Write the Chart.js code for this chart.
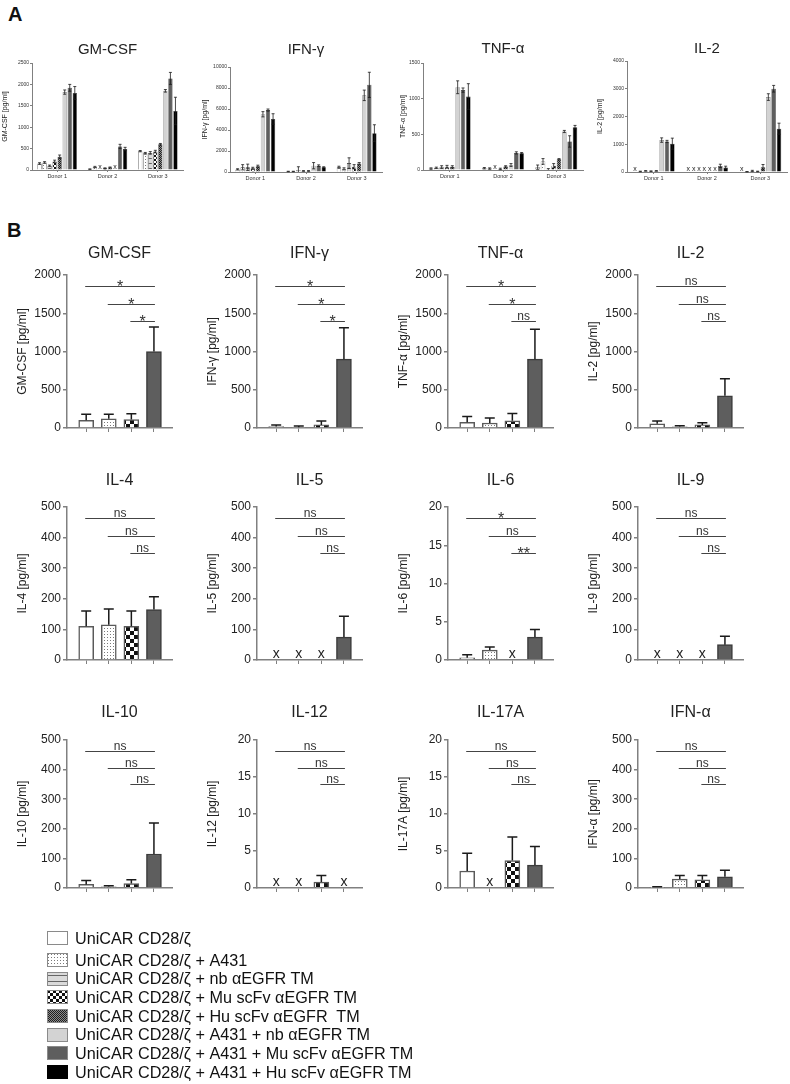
<!DOCTYPE html>
<html>
<head>
<meta charset="utf-8">
<script src="https://cdn.jsdelivr.net/npm/chart.js@4.4.1/dist/chart.umd.min.js"></script>
<style>
  body { margin: 0; width: 790px; height: 1084px; background: #fff; position: relative; overflow: hidden;
         font-family: "Liberation Sans", Arial, sans-serif; }
  .panel { position: absolute; font-weight: bold; font-size: 20px; color: #111; }
  #legend { position: absolute; left: 47px; top: 929px; }
  .row { display: flex; align-items: center; height: 18.7px; font-size: 16.2px; color: #111; white-space: pre; }
  .row:first-child { margin-bottom: 3px; }
  .row canvas { margin-right: 7px; }
</style>
</head>
<body>
<div class="panel" style="left:8px;top:3px">A</div>
<div class="panel" style="left:7px;top:219px">B</div>
<div id="legend"></div>

<script>
/* ---------- data ---------- */
const groups = [
  'UniCAR CD28/ζ',
  'UniCAR CD28/ζ + A431',
  'UniCAR CD28/ζ + nb αEGFR TM',
  'UniCAR CD28/ζ + Mu scFv αEGFR TM',
  'UniCAR CD28/ζ + Hu scFv αEGFR  TM',
  'UniCAR CD28/ζ + A431 + nb αEGFR TM',
  'UniCAR CD28/ζ + A431 + Mu scFv αEGFR TM',
  'UniCAR CD28/ζ + A431 + Hu scFv αEGFR TM'
];
const donors = ['Donor 1', 'Donor 2', 'Donor 3'];

// Panel A : one row per donor, one column per group (null = not detected, drawn as x)
const gmcsfA    = [[150, 175, 100, 200, 310, 1820, 1920, 1800], [20, 70, null, 40, 60, null, 550, 490], [440, 390, 400, 430, 600, 1850, 2140, 1380]];
const gmcsfAErr = [[20, 20, 15, 30, 40, 50, 80, 150], [5, 15, 0, 10, 10, 0, 50, 40], [15, 20, 30, 30, 20, 30, 140, 320]];
const ifngA     = [[250, 450, 450, 350, 550, 5500, 5900, 5050], [50, 50, 200, 100, 100, 600, 600, 450], [450, 300, 850, 500, 800, 7300, 8300, 3700]];
const ifngAErr  = [[60, 250, 300, 100, 100, 250, 100, 500], [20, 20, 300, 30, 30, 300, 80, 50], [100, 100, 500, 200, 100, 500, 1200, 800]];
const tnfaA     = [[20, 30, 40, 45, 45, 1160, 1120, 1030], [25, 20, null, 15, 50, 70, 240, 235], [40, 120, 10, 60, 150, 540, 400, 600]];
const tnfaAErr  = [[10, 10, 20, 20, 15, 90, 30, 180], [10, 10, 0, 10, 10, 20, 15, 10], [30, 40, 10, 30, 10, 15, 80, 25]];
const il2A      = [[null, 20, 40, 30, 40, 1150, 1100, 1020], [null, null, null, null, null, null, 220, 160], [null, 10, 40, 20, 170, 2700, 3000, 1560]];
const il2AErr   = [[0, 10, 10, 10, 10, 80, 40, 200], [0, 0, 0, 0, 0, 0, 60, 50], [0, 5, 20, 10, 100, 120, 120, 200]];

const aTitles = ['GM-CSF', 'IFN-γ', 'TNF-α', 'IL-2'];
const aMax    = [2500, 10000, 1500, 4000];
const aStep   = [500, 2000, 500, 1000];

// Panel B : mean of the 3 donors (+SD), groups 0, 1, 3, 6 of the legend
const bGroups = [0, 1, 3, 6];
const bTitles = ['GM-CSF', 'IFN-γ', 'TNF-α', 'IL-2', 'IL-4', 'IL-5', 'IL-6', 'IL-9', 'IL-10', 'IL-12', 'IL-17A', 'IFN-α'];
const bMeans = [
  [100, 120, 110, 1000], [20, 10, 40, 900], [75, 65, 95, 900], [55, 15, 40, 420],
  [110, 115, 110, 165], [null, null, null, 75], [0.3, 1.3, null, 3.0], [null, null, null, 50],
  [12, 4, 15, 115], [null, null, 0.8, null], [2.3, null, 3.7, 3.1], [2, 30, 28, 38]
];
const bErrs = [
  [80, 60, 75, 320], [20, 15, 50, 410], [75, 65, 95, 390], [35, 15, 30, 225],
  [50, 52, 50, 42], [0, 0, 0, 68], [0.4, 0.4, 0, 1.0], [0, 0, 0, 28],
  [13, 4, 13, 105], [0, 0, 0.9, 0], [2.4, 0, 3.2, 2.5], [2, 12, 14, 22]
];
const bMax  = [2000, 2000, 2000, 2000, 500, 500, 20, 500, 500, 20, 20, 500];
const bStep = [500, 500, 500, 500, 100, 100, 5, 100, 100, 5, 5, 100];
const bSig = [
  ['*', '*', '*'], ['*', '*', '*'], ['*', '*', 'ns'], ['ns', 'ns', 'ns'],
  ['ns', 'ns', 'ns'], ['ns', 'ns', 'ns'], ['*', 'ns', '**'], ['ns', 'ns', 'ns'],
  ['ns', 'ns', 'ns'], ['ns', 'ns', 'ns'], ['ns', 'ns', 'ns'], ['ns', 'ns', 'ns']
];

/* ---------- styles ---------- */
const FONT = '"Liberation Sans", Arial, sans-serif';
Chart.defaults.font.family = FONT;
Chart.defaults.color = '#222';
const AXIS = '#808080';
const plain = v => String(v);

function tile(kind, s) {
  const c = document.createElement('canvas');
  const g = c.getContext('2d');
  if (kind === 'dots') {
    c.width = c.height = 3;
    g.fillStyle = '#fff'; g.fillRect(0, 0, 3, 3);
    g.fillStyle = '#7a7a7a'; g.fillRect(1, 1, 1, 1);
  } else if (kind === 'stripes') {
    c.width = 4; c.height = s;
    g.fillStyle = '#dadada'; g.fillRect(0, 0, 4, s);
    g.fillStyle = '#666'; g.fillRect(0, Math.floor(s / 2), 4, 1);
  } else if (kind === 'checker') {
    c.width = c.height = 2 * s;
    g.fillStyle = '#fff'; g.fillRect(0, 0, 2 * s, 2 * s);
    g.fillStyle = '#111'; g.fillRect(0, 0, s, s); g.fillRect(s, s, s, s);
  } else {
    c.width = c.height = 2;
    g.fillStyle = '#8c8c8c'; g.fillRect(0, 0, 2, 2);
    g.fillStyle = '#1e1e1e'; g.fillRect(0, 0, 1, 1); g.fillRect(1, 1, 1, 1);
  }
  return g.createPattern(c, 'repeat');
}
function fillsFor(s) {
  return ['#ffffff', tile('dots'), tile('stripes', s + 3), tile('checker', s), tile('fine'), '#d3d3d3', '#5e5e5e', '#000000'];
}

/* ---------- error bars, x marks, significance lines ---------- */
const extras = {
  id: 'extras',
  afterDatasetsDraw(chart, args, o) {
    const { ctx, scales: { x, y } } = chart;
    ctx.save();
    chart.data.datasets.forEach((ds, di) => {
      chart.getDatasetMeta(di).data.forEach((bar, j) => {
        const raw = ds.data[j];
        const v = raw !== null && typeof raw === 'object' ? raw.y : raw;
        if (v === null || v === undefined) {
          ctx.fillStyle = '#222';
          ctx.font = o.xFont;
          ctx.textAlign = 'center';
          ctx.textBaseline = 'alphabetic';
          ctx.fillText('x', bar.x, y.bottom - o.xLift);
          return;
        }
        const e = ds.errors ? ds.errors[j] : 0;
        if (!e) return;
        const top = y.getPixelForValue(v + e);
        const bot = y.getPixelForValue(o.bothWays ? Math.max(v - e, 0) : v);
        ctx.strokeStyle = '#1a1a1a';
        ctx.lineWidth = o.lw;
        ctx.beginPath();
        ctx.moveTo(bar.x, bot); ctx.lineTo(bar.x, top);
        ctx.moveTo(bar.x - o.cap / 2, top); ctx.lineTo(bar.x + o.cap / 2, top);
        if (o.bothWays && v - e > 0) { ctx.moveTo(bar.x - o.cap / 2, bot); ctx.lineTo(bar.x + o.cap / 2, bot); }
        ctx.stroke();
      });
    });
    if (o.sig) {
      const last = x.getPixelForValue(3);
      o.sig.forEach((lab, k) => {
        const yy = Math.round(y.getPixelForValue(o.levels[k] * y.max)) + 0.5;
        const x1 = x.getPixelForValue(k) - 1;
        ctx.strokeStyle = '#444'; ctx.lineWidth = 1;
        ctx.beginPath(); ctx.moveTo(x1, yy); ctx.lineTo(last + 1, yy); ctx.stroke();
        ctx.fillStyle = '#333'; ctx.textAlign = 'center'; ctx.textBaseline = 'alphabetic';
        const mid = (x1 + last + 1) / 2;
        if (lab === 'ns') { ctx.font = '12px ' + FONT; ctx.fillText(lab, mid, yy - 2); }
        else { ctx.font = '16px ' + FONT; ctx.fillText(lab, mid, yy + 5); }
      });
    }
    ctx.restore();
  }
};

/* ---------- layout helpers ---------- */
function frame(axisX, yW, titleY, areaTop, areaBottom, plotW, titleSize, xH, right) {
  const lh = titleSize * 1.2;
  const top = Math.round(titleY - lh / 2);
  return { left: axisX - yW, top, width: yW + plotW + right, height: areaBottom + xH - top, pb: areaTop - top - lh, right };
}
function place(f) {
  const c = document.createElement('canvas');
  c.width = f.width; c.height = f.height;
  c.style.cssText = `position:absolute;left:${f.left}px;top:${f.top}px;width:${f.width}px;height:${f.height}px`;
  document.body.appendChild(c);
  return c;
}

/* ============================================================
   A — per donor, 8 groups
============================================================ */
const aValues = [gmcsfA, ifngA, tnfaA, il2A];
const aErrors = [gmcsfAErr, ifngAErr, tnfaAErr, il2AErr];
const aFrames = [
  { axis: 32,  yW: 32, ty: 50, top: 63, bottom: 170, w: 151, tp: 0.8 },
  { axis: 230, yW: 40, ty: 50, top: 67, bottom: 172, w: 152, tp: 10.8 },
  { axis: 423, yW: 35, ty: 49, top: 63, bottom: 170, w: 160, tp: 11.3 },
  { axis: 627, yW: 35, ty: 49, top: 61, bottom: 172, w: 160, tp: 3.8 }
];
const aFills = fillsFor(2);

aTitles.forEach((t, k) => {
  const p = aFrames[k];
  const f = frame(p.axis, p.yW, p.ty, p.top, p.bottom, p.w, 15, 12, 2);
  new Chart(place(f), {
    type: 'bar',
    data: {
      labels: donors,
      datasets: groups.map((g, i) => ({
        label: g,
        data: donors.map((d, j) => aValues[k][j][i]),
        errors: donors.map((d, j) => aErrors[k][j][i]),
        backgroundColor: aFills[i],
        borderColor: i === 5 ? '#777' : '#333',
        borderWidth: 0.6,
        categoryPercentage: 0.8,
        barPercentage: 0.85
      }))
    },
    options: {
      responsive: false, animation: false, events: [],
      layout: { padding: { right: f.right } },
      plugins: {
        legend: { display: false }, tooltip: { enabled: false },
        title: { display: true, fullSize: false, text: t, font: { size: 15, weight: 'normal' }, color: '#222', padding: { top: 0, bottom: f.pb } },
        extras: { xFont: '7px ' + FONT, xLift: 1.5, lw: 0.8, cap: 3, bothWays: true }
      },
      scales: {
        x: {
          offset: true,
          grid: { offset: false, drawOnChartArea: false, tickLength: 2, color: AXIS },
          border: { color: AXIS, width: 1 },
          ticks: { font: { size: 5.5 }, color: '#333', padding: 1, maxRotation: 0 },
          afterFit: s => { s.height = 12; }
        },
        y: {
          min: 0, max: aMax[k],
          ticks: { stepSize: aStep[k], font: { size: 5 }, color: '#333', padding: 1, callback: plain },
          grid: { drawOnChartArea: false, tickLength: 2, color: AXIS },
          border: { color: AXIS, width: 1 },
          title: { display: true, text: t + ' [pg/ml]', font: { size: 7 }, color: '#222', padding: { top: p.tp, bottom: 0 } },
          afterFit: s => { s.width = p.yW; }
        }
      }
    },
    plugins: [extras]
  });
});

/* ============================================================
   B — mean of donors, 4 groups, significance
============================================================ */
const colAxis = [67, 257, 448, 638];
const rowTitleY = [254, 481, 713];
const rowTop = [275, 507, 740];
const rowBottom = [428, 660, 888];
const bFills = fillsFor(4);

bTitles.forEach((t, k) => {
  const col = k % 4, row = Math.floor(k / 4);
  const f = frame(colAxis[col], 57, rowTitleY[row], rowTop[row], rowBottom[row], 105, 16, 12, 10);
  new Chart(place(f), {
    type: 'bar',
    data: {
      datasets: [{
        data: bMeans[k].map((v, i) => ({ x: i, y: v })),
        errors: bErrs[k],
        backgroundColor: bGroups.map(g => bFills[g]),
        borderColor: bGroups.map(g => g === 6 ? '#3c3c3c' : '#5a5a5a'),
        borderWidth: 1.5,
        barThickness: 15
      }]
    },
    options: {
      responsive: false, animation: false, events: [],
      layout: { padding: { right: f.right } },
      plugins: {
        legend: { display: false }, tooltip: { enabled: false },
        title: { display: true, fullSize: false, text: t, font: { size: 16, weight: 'normal' }, color: '#222', padding: { top: 0, bottom: f.pb } },
        extras: { xFont: '14px ' + FONT, xLift: 2.5, lw: 1.5, cap: 10, bothWays: false,
                  sig: bSig[k], levels: [0.925, 0.81, 0.7] }
      },
      scales: {
        x: {
          type: 'linear', min: -0.85, max: 3.8, offset: false,
          afterBuildTicks: s => { s.ticks = bGroups.map((g, i) => ({ value: i })); },
          ticks: { callback: () => '' },
          grid: { offset: false, drawOnChartArea: false, tickLength: 4, color: AXIS },
          border: { color: AXIS, width: 1.5 },
          afterFit: s => { s.height = 12; }
        },
        y: {
          min: 0, max: bMax[k],
          ticks: { stepSize: bStep[k], font: { size: 12 }, color: '#222', padding: 2, callback: plain },
          grid: { drawOnChartArea: false, tickLength: 4, color: AXIS, lineWidth: 1.5 },
          border: { color: AXIS, width: 1.5 },
          title: { display: true, text: t + ' [pg/ml]', font: { size: 12 }, color: '#222', padding: { top: 5.8, bottom: 0 } },
          afterFit: s => { s.width = 57; }
        }
      }
    },
    plugins: [extras]
  });
});

/* ============================================================
   legend
============================================================ */
const legend = document.getElementById('legend');
const lFills = fillsFor(3);
groups.forEach((g, i) => {
  const row = document.createElement('div');
  row.className = 'row';
  const sw = document.createElement('canvas');
  sw.width = 21; sw.height = 14;
  const c = sw.getContext('2d');
  c.fillStyle = lFills[i];
  c.fillRect(0, 0, 21, 14);
  c.strokeStyle = i === 7 ? '#000' : '#8a8a8a';
  c.lineWidth = 1;
  c.strokeRect(0.5, 0.5, 20, 13);
  row.appendChild(sw);
  const span = document.createElement('span');
  span.textContent = g;
  row.appendChild(span);
  legend.appendChild(row);
});
</script>
</body>
</html>
